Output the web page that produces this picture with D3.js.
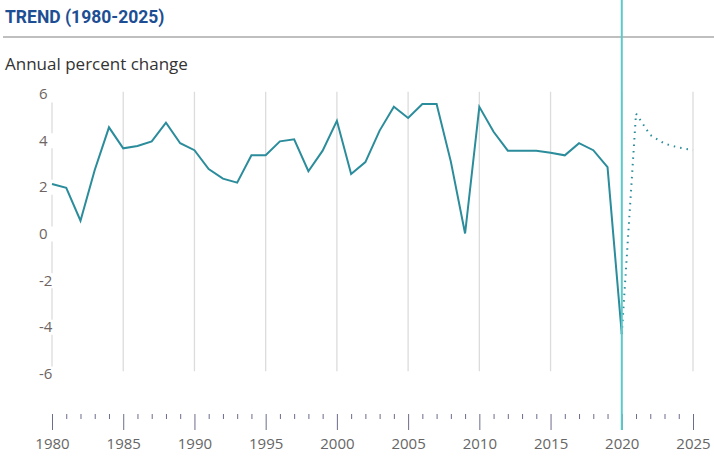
<!DOCTYPE html>
<html><head><meta charset="utf-8">
<script src="https://cdn.jsdelivr.net/npm/d3@7"></script>
<style>body{margin:0;background:#fff}svg{display:block}</style>
</head><body>
<svg id="c" width="714" height="464"></svg>
<script>
const title = "TREND (1980-2025)";
const yLabel = "Annual percent change";
const years = d3.range(1980, 2021);
const actual = [2.12,1.96,0.55,2.72,4.55,3.65,3.75,3.95,4.75,3.87,
  3.57,2.76,2.35,2.18,3.35,3.35,3.95,4.04,2.67,3.55,
  4.83,2.55,3.06,4.41,5.43,4.95,5.55,5.55,3.08,0.0,
  5.43,4.36,3.55,3.55,3.55,3.46,3.35,3.87,3.57,2.84,-4.31];
const forecastYears = [2020,2021,2022,2023,2024,2025];
const forecast = [-4.31,5.14,4.22,3.85,3.68,3.58];
const yTicks = [6,4,2,0,-2,-4,-6];
const xMajor = [1980,1985,1990,1995,2000,2005,2010,2015,2020,2025];
const markerYear = 2020;

const svg = d3.select("#c");
const x = d3.scaleLinear().domain([1980,2025]).range([52,693]);
const y = d3.scaleLinear().domain([-6,6]).range([373.5,93.5]);
const font = "'Open Sans', sans-serif";

// title
svg.append("text").attr("x",5).attr("y",23).text(title)
  .attr("font-family","Roboto, sans-serif").attr("font-weight","bold")
  .attr("font-size",17.5).attr("fill","#1d4e94");
svg.append("line").attr("x1",3).attr("x2",714).attr("y1",37).attr("y2",37)
  .attr("stroke","#aaa").attr("stroke-width",1.5);
svg.append("text").attr("x",5).attr("y",70).text(yLabel)
  .attr("font-family",font).attr("font-size",17).attr("fill","#333");

// vertical gridlines
svg.append("g").selectAll("line").data(xMajor.filter(d=>d>1980)).join("line")
  .attr("x1",d=>x(d)).attr("x2",d=>x(d))
  .attr("y1",y(6.07)).attr("y2",y(-5.9))
  .attr("stroke","#dcdcdc").attr("stroke-width",1.3);

// y axis line segments between labels
const segs = d3.pairs(yTicks);
svg.append("g").selectAll("line").data(segs).join("line")
  .attr("x1",x(1980)).attr("x2",x(1980))
  .attr("y1",d=>y(d[0])+ (d[0]===6?9:8)).attr("y2",d=>y(d[1])-7)
  .attr("stroke","#dcdcdc").attr("stroke-width",1.3);

// y labels
svg.append("g").selectAll("text").data(yTicks).join("text")
  .attr("x",39).attr("y",d=>y(d)).attr("dy","0.36em")
  .text(d=>d).attr("font-family",font).attr("font-size",15)
  .attr("fill","#6e6462");

// x axis ticks
const xAxis = d3.axisBottom(x).tickValues(xMajor).tickFormat(d3.format("d"))
  .tickSize(16).tickPadding(8);
const gx = svg.append("g").attr("transform","translate(0,414)").call(xAxis);
gx.select(".domain").remove();
gx.selectAll(".tick line").attr("stroke","#6c6c8c");
gx.selectAll(".tick text").attr("font-family",font).attr("font-size",15)
  .attr("fill","#666");
const minor = d3.range(1980,2026).filter(d=>!xMajor.includes(d));
svg.append("g").selectAll("line").data(minor).join("line")
  .attr("x1",d=>x(d)+0.5).attr("x2",d=>x(d)+0.5).attr("y1",414).attr("y2",419)
  .attr("stroke","#6c6c8c");

// line
const line = d3.line().x(d=>x(d[0])).y(d=>y(d[1]));
svg.append("path").datum(d3.zip(years,actual)).attr("d",line)
  .attr("fill","none").attr("stroke","#2b8c9b").attr("stroke-width",2)
  .attr("stroke-linejoin","miter");
svg.append("path").datum(d3.zip(forecastYears,forecast)).attr("d",line)
  .attr("fill","none").attr("stroke","#2b8c9b").attr("stroke-width",2)
  .attr("stroke-dasharray","1.5,5");

// marker line
svg.append("line").attr("x1",x(markerYear)).attr("x2",x(markerYear))
  .attr("y1",0).attr("y2",430).attr("stroke","#5ccaca").attr("stroke-width",2);
</script>
</body></html>
